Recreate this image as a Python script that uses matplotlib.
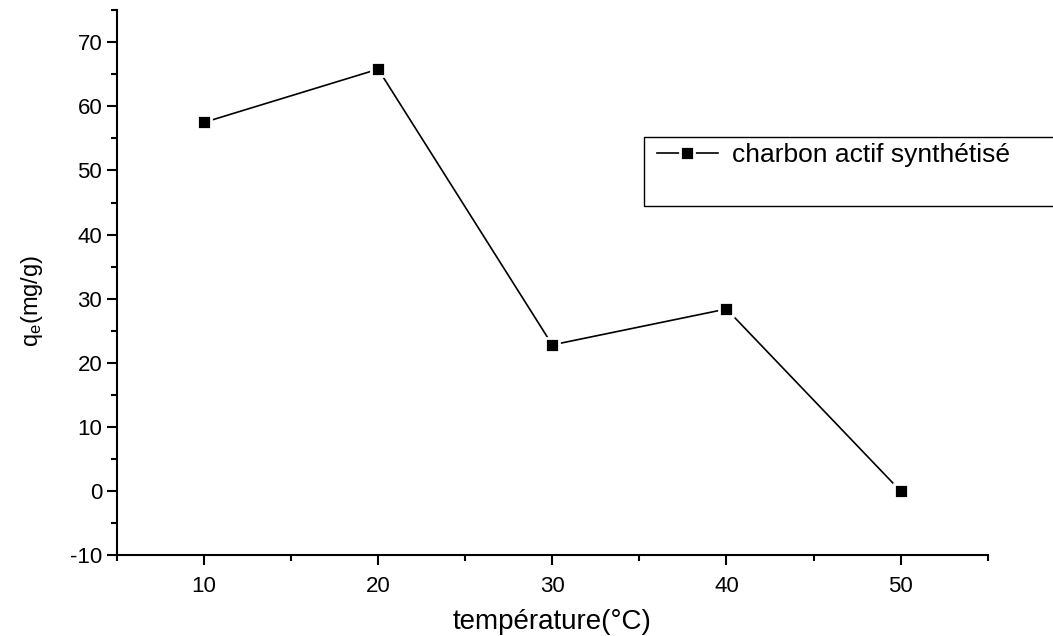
import matplotlib.pyplot as plt
from matplotlib.patches import Rectangle
from matplotlib.ticker import MultipleLocator

plt.rcParams['font.family'] = ['Liberation Sans', 'DejaVu Sans']
plt.rcParams['axes.unicode_minus'] = False

temperature = [10, 20, 30, 40, 50]
qe = [57.5, 65.8, 22.8, 28.4, 0.0]

fig = plt.figure(figsize=(10.53, 6.36), dpi=100)
ax = fig.add_axes([0.111, 0.127, 0.827, 0.857])

# white marker edge leaves a small gap between line and squares
ax.plot(temperature, qe, color="black", lw=1.2, marker="s", ms=10.5,
        mfc="black", mec="white", mew=2, label="charbon actif synthétisé")

ax.set_xlim(5, 55)
ax.set_ylim(-10, 75)
ax.xaxis.set_major_locator(MultipleLocator(10))
ax.xaxis.set_minor_locator(MultipleLocator(5))
ax.yaxis.set_minor_locator(MultipleLocator(5))
ax.set_yticks(range(-10, 71, 10))

for s in ["top", "right"]:
    ax.spines[s].set_visible(False)
for s in ["left", "bottom"]:
    ax.spines[s].set_linewidth(1.5)
ax.tick_params(which="major", direction="out", length=7, width=1.5, labelsize=16)
ax.tick_params(axis="x", which="major", pad=8)
ax.tick_params(which="minor", direction="out", length=4, width=1.5)

ax.set_xlabel("température(°C)", fontsize=20)
ax.set_ylabel("$\\mathregular{q_e}$(mg/g)", fontsize=17)
ax.xaxis.set_label_coords(0.5, -0.098)
ax.yaxis.set_label_coords(-0.083, 0.466)

# legend box that runs past the right edge of the figure
fig.patches.append(Rectangle((0.6116, 0.676), 0.45, 0.1085, transform=fig.transFigure,
                             fill=False, edgecolor="black", lw=1))
ax.legend(loc="center left", bbox_to_anchor=(657 / 1053, 1 - 155 / 636),
          bbox_transform=fig.transFigure, frameon=False, fontsize=19,
          handlelength=2.3, handletextpad=0.55, borderpad=0, borderaxespad=0)

fig.savefig("out.png", dpi=100)
